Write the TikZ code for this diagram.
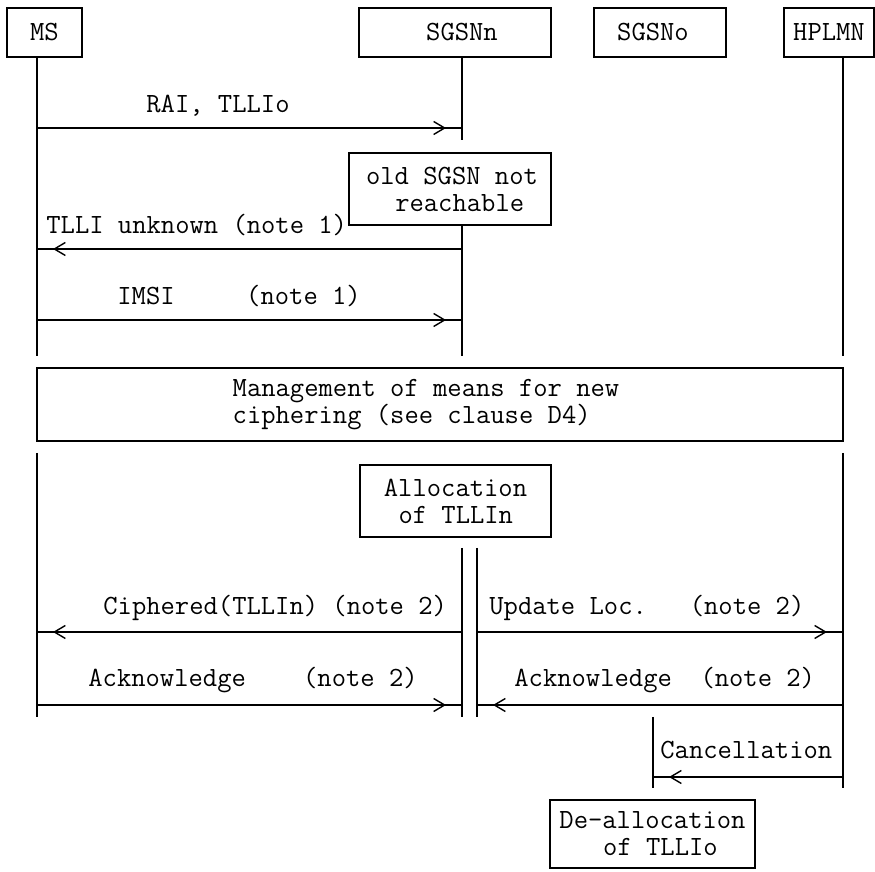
\documentclass[tikz,border=0pt]{standalone}
\usetikzlibrary{arrows.meta,decorations.markings}
\newcommand\msgfont{\fontsize{13.9}{12}\selectfont\ttfamily}
\newcommand\boxfont{\fontsize{13.9}{13.5}\selectfont\ttfamily}
\newcommand\lsp{\hspace*{0.525em}}

\begin{document}
\begin{tikzpicture}[x=0.5pt,y=-0.5pt,
  every node/.style={font=\msgfont,inner sep=0pt},
  entity/.style={draw,line width=0.7pt,minimum height=24.5pt},
  note/.style ={draw,line width=0.7pt},
  ntext/.style={align=left,font=\boxfont},
  life/.style ={line width=0.7pt},
  msg/.style  ={line width=0.7pt,postaction={decorate,decoration={markings,
                mark=at position -8pt with {\arrow{Straight Barb[length=5.5pt,width=6.5pt]}}}}},
  lbl/.style  ={anchor=base west}
]
\useasboundingbox (0,0) rectangle (875,872);
% entities
\node[entity,minimum width=37.5pt] (ms) at (44.5,32.5) {MS};
\node[entity,minimum width=96pt,label={[xshift=3.5pt]center:SGSNn}] (sgsnn) at (455,32.5) {};
\node[entity,minimum width=66pt,label={[xshift=-3.5pt]center:SGSNo}] (sgsno) at (660,32.5) {};
\node[entity,minimum width=45pt] (hplmn) at (829,32.5) {HPLMN};
% lifeline end points
\foreach \n/\x/\y in {msA/37/57, msB/37/356, msC/37/453, msD/37/717,
                      snA/462/57, snB/462/140, snC/462/225, snD/462/356,
                      snE/462/548, snF/462/717, snG/477/548, snH/477/717,
                      soA/653/717, soB/653/788,
                      hpA/843/57, hpB/843/356, hpC/843/453, hpD/843/788}
  \coordinate (\n) at (\x,\y);
\foreach \a/\b in {msA/msB, msC/msD, snA/snB, snC/snD, snE/snF, snG/snH,
                   soA/soB, hpA/hpB, hpC/hpD}
  \draw[life] (\a)--(\b);
% message end points
\foreach \n/\x/\y in {m1a/37/128,  m1b/462/128,
                      m2a/462/249, m2b/37/249,
                      m3a/37/320,  m3b/462/320,
                      m4a/462/632, m4b/37/632,
                      m5a/477/632, m5b/843/632,
                      m6a/37/705,  m6b/462/705,
                      m7a/843/705, m7b/477/705,
                      m8a/843/777, m8b/653/777}
  \coordinate (\n) at (\x,\y);
\foreach \i in {1,...,8}
  \draw[msg] (m\i a)--(m\i b);
% message labels
\node[lbl] (t1) at (146,113) {RAI, TLLIo};
\node[lbl] (t2) at (46,234)  {TLLI unknown (note 1)};
\node[lbl] (t3) at (117,305) {IMSI\ \ \ \ \ (note 1)};
\node[lbl] (t4) at (103,615) {Ciphered(TLLIn) (note 2)};
\node[lbl] (t5) at (489,615) {Update Loc.\ \ \ (note 2)};
\node[lbl] (t6) at (88,687)  {Acknowledge\ \ \ \ (note 2)};
\node[lbl] (t7) at (514,687) {Acknowledge\ \ (note 2)};
\node[lbl] (t8) at (660,759) {Cancellation};
% boxes
\node[note,minimum width=101pt,minimum height=36pt,
      label={[ntext,xshift=1pt]center:{old SGSN not\\\lsp\lsp reachable}}]
  (old) at (450,189) {};
\node[note,minimum width=403pt,minimum height=36.5pt,
      label={[ntext,xshift=-7pt]center:{Management of means for new\\ciphering (see clause D4)}}]
  (mgmt) at (440,404.5) {};
\node[note,minimum width=95.5pt,minimum height=36pt,
      label={[ntext]center:{Allocation\\\lsp of TLLIn}}]
  (alloc) at (455.5,501) {};
\node[note,minimum width=102.5pt,minimum height=34pt,
      label={[ntext]center:{De-allocation\\\lsp\lsp\lsp of TLLIo}}]
  (dealloc) at (652.5,834) {};
\end{tikzpicture}
\end{document}
